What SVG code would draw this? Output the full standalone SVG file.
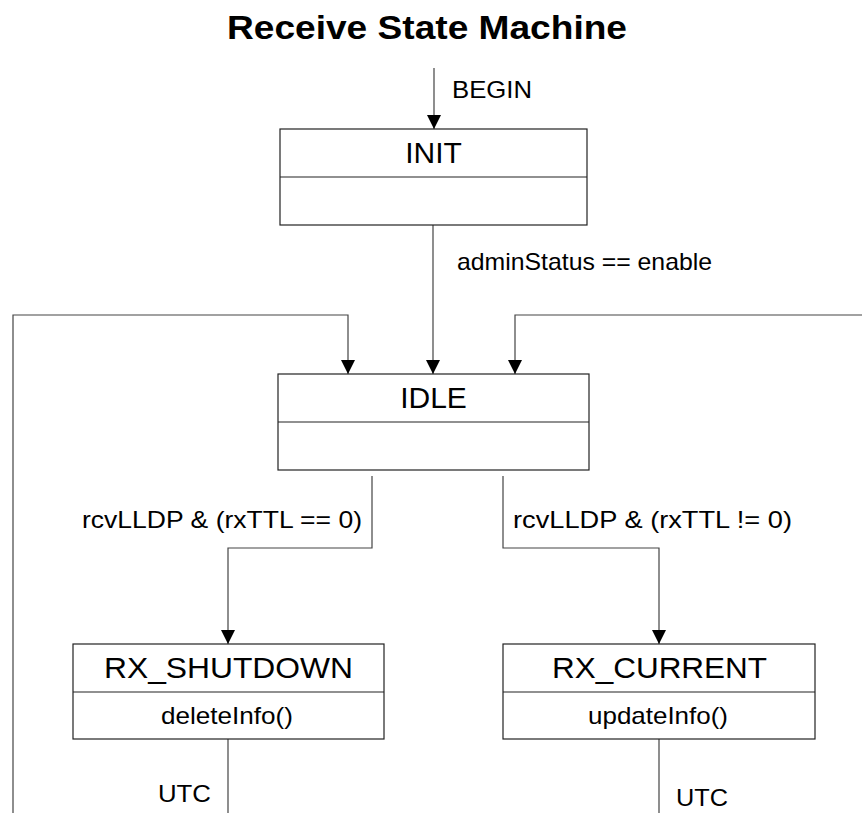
<svg xmlns="http://www.w3.org/2000/svg" width="862" height="813" viewBox="0 0 862 813">
<style>
.box{fill:#fff;stroke:#222;stroke-width:1.2}
.div{stroke:#222;stroke-width:1.2}
.con{fill:none;stroke:#444;stroke-width:1.2}
text{font-family:"Liberation Sans",Arial,sans-serif;fill:#000}
.name{font-size:30px;text-anchor:middle}
.act{font-size:24px;text-anchor:middle}
.lbl{font-size:24px}
.title{font-size:33px;font-weight:bold}
</style>
<defs>
<marker id="arr" markerWidth="14" markerHeight="14" refX="14" refY="7" orient="auto" markerUnits="userSpaceOnUse" viewBox="0 0 14 14">
<path d="M0,0 L14,7 L0,14 Z" fill="#000"/>
</marker>
</defs>
<text class="title" x="227" y="39" textLength="400" lengthAdjust="spacingAndGlyphs">Receive State Machine</text>
<g id="connectors">
<path class="con" d="M434,68 V129" marker-end="url(#arr)"/>
<path class="con" d="M433,225 V374" marker-end="url(#arr)"/>
<path class="con" d="M13,813 V315 H348 V374" marker-end="url(#arr)"/>
<path class="con" d="M862,315 H515 V374" marker-end="url(#arr)"/>
<path class="con" d="M372,476 V548 H228 V644" marker-end="url(#arr)"/>
<path class="con" d="M503,476 V548 H659 V644" marker-end="url(#arr)"/>
<path class="con" d="M228,739 V813"/>
<path class="con" d="M659,739 V813"/>
<text class="lbl" x="452" y="98" textLength="80" lengthAdjust="spacingAndGlyphs">BEGIN</text>
<text class="lbl" x="457" y="270" textLength="255" lengthAdjust="spacingAndGlyphs">adminStatus == enable</text>
<text class="lbl" x="82" y="528" textLength="280" lengthAdjust="spacingAndGlyphs">rcvLLDP &amp; (rxTTL == 0)</text>
<text class="lbl" x="513" y="528" textLength="279" lengthAdjust="spacingAndGlyphs">rcvLLDP &amp; (rxTTL != 0)</text>
<text class="lbl" x="158" y="802" textLength="53" lengthAdjust="spacingAndGlyphs">UTC</text>
<text class="lbl" x="676" y="806" textLength="52" lengthAdjust="spacingAndGlyphs">UTC</text>
</g>
<g id="INIT">
<rect class="box" x="280" y="129" width="307" height="96"/>
<line class="div" x1="280" y1="177" x2="587" y2="177"/>
<text class="name" x="433.5" y="163">INIT</text>
</g>
<g id="IDLE">
<rect class="box" x="278" y="374" width="311" height="96"/>
<line class="div" x1="278" y1="422" x2="589" y2="422"/>
<text class="name" x="433.5" y="408">IDLE</text>
</g>
<g id="RX_SHUTDOWN">
<rect class="box" x="73" y="644" width="311" height="95"/>
<line class="div" x1="73" y1="692" x2="384" y2="692"/>
<text class="name" x="228.5" y="678" textLength="249" lengthAdjust="spacingAndGlyphs">RX_SHUTDOWN</text>
<text class="act" x="227" y="724" textLength="132" lengthAdjust="spacingAndGlyphs">deleteInfo()</text>
</g>
<g id="RX_CURRENT">
<rect class="box" x="503" y="644" width="312" height="95"/>
<line class="div" x1="503" y1="692" x2="815" y2="692"/>
<text class="name" x="659.5" y="678" textLength="215" lengthAdjust="spacingAndGlyphs">RX_CURRENT</text>
<text class="act" x="658" y="724" textLength="140" lengthAdjust="spacingAndGlyphs">updateInfo()</text>
</g>
</svg>
